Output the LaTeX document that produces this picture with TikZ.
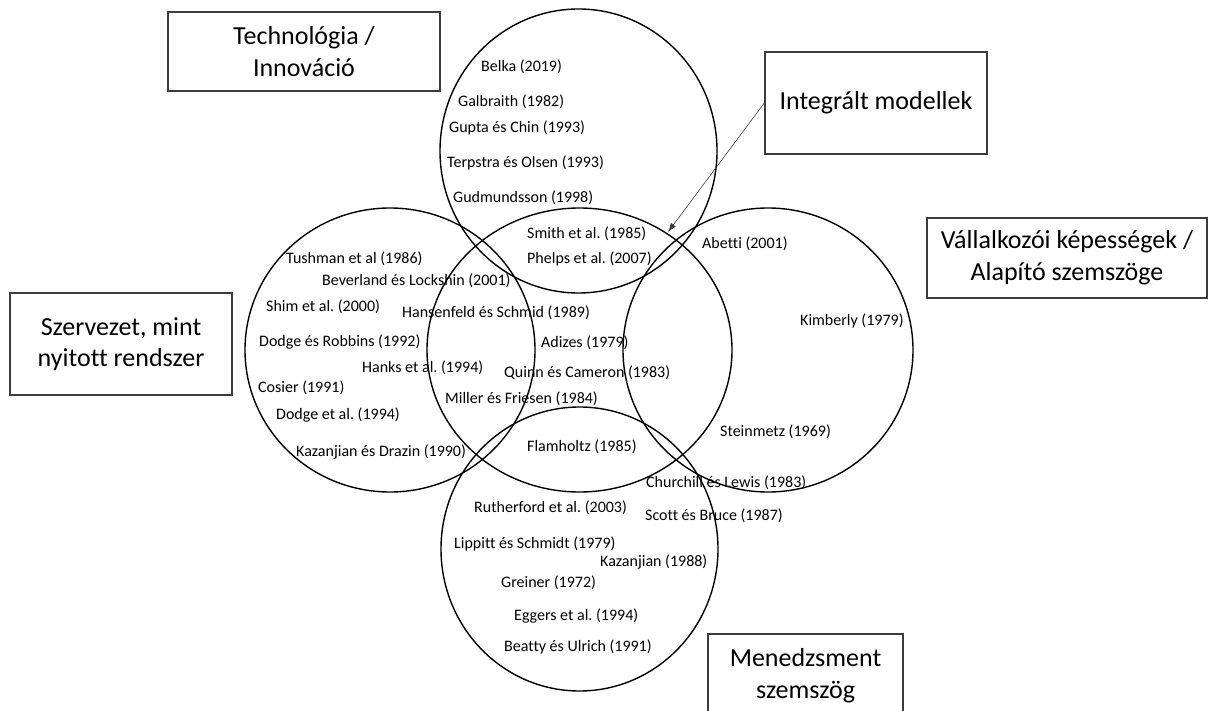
\documentclass[tikz,border=0pt]{standalone}
\usepackage{fontspec}
\setmainfont{Carlito}[Ligatures={NoCommon}]
\usetikzlibrary{arrows.meta}
\definecolor{boxgray}{HTML}{3C3C3C}
\frenchspacing
\begin{document}
\begin{tikzpicture}[x=1pt,y=-1pt,
  ref/.style={font=\fontsize{16}{19}\selectfont, inner sep=0pt, anchor=west},
  bigbox/.style={draw=boxgray, line width=1.4pt, align=center, inner sep=0pt,
     font=\fontsize{26}{31.7}\selectfont},
  ring/.style={draw=black, line width=1.4pt},
  pointer/.style={draw=boxgray, line width=0.6pt, -{Latex[length=9pt,width=6pt]}}]
\useasboundingbox (0,0) rectangle (1209,711);
\clip (0,0) rectangle (1209,711);
\fill[white] (0,0) rectangle (1209,711);

% circles
\draw[ring] (578.5,151) ellipse [x radius=138.5, y radius=142];
\draw[ring] (390,350) ellipse [x radius=145, y radius=142];
\draw[ring] (579.5,350) ellipse [x radius=152.5, y radius=142];
\draw[ring] (768,350) ellipse [x radius=145, y radius=142];
\draw[ring] (579.5,549) ellipse [x radius=138.5, y radius=142];

% boxes
\node[bigbox, minimum width=272pt, minimum height=79pt] (tech) at (304,51.5) {Technológia /\\Innováció};
\node[bigbox, minimum width=222pt, minimum height=102pt] (integ) at (876,103) {Integrált modellek};
\node[bigbox, minimum width=280pt, minimum height=80pt] (vall) at (1067,258) {Vállalkozói képességek /\\Alapító szemszöge};
\node[bigbox, minimum width=222pt, minimum height=102pt] (szerv) at (121,344) {Szervezet, mint\\nyitott rendszer};
\node[bigbox, minimum width=195pt, minimum height=84pt] (menedz) at (805.5,676) {Menedzsment\\szemszög};

% arrow
\coordinate (tip) at (668,232);
\draw[pointer] (integ.west) -- (tip);

% top circle
\node[ref] (belka) at (481,67) {Belka (2019)};
\node[ref] (galb) at (458,102) {Galbraith (1982)};
\node[ref] (gupta) at (449,128) {Gupta és Chin (1993)};
\node[ref] (terp) at (447,163) {Terpstra és Olsen (1993)};
\node[ref] (gudm) at (453,198) {Gudmundsson (1998)};
% center top
\node[ref] (smith) at (527,234) {Smith et al. (1985)};
\node[ref] (phelps) at (527,259) {Phelps et al. (2007)};
% left circle
\node[ref] (tush) at (286,259) {Tushman et al (1986)};
\node[ref] (bever) at (322,281) {Beverland és Lockshin (2001)};
\node[ref] (shim) at (266,307) {Shim et al. (2000)};
\node[ref] (hansen) at (402,313) {Hansenfeld és Schmid (1989)};
\node[ref] (dodgerob) at (259,342) {Dodge és Robbins (1992)};
\node[ref] (hanks) at (362,368) {Hanks et al. (1994)};
\node[ref] (cosier) at (258,388) {Cosier (1991)};
\node[ref] (dodgeal) at (276,415) {Dodge et al. (1994)};
\node[ref] (kazdraz) at (296,452) {Kazanjian és Drazin (1990)};
% center
\node[ref] (adizes) at (541,343) {Adizes (1979)};
\node[ref] (quinn) at (504,373) {Quinn és Cameron (1983)};
\node[ref] (miller) at (445,399) {Miller és Friesen (1984)};
\node[ref] (flam) at (527,447) {Flamholtz (1985)};
% right circle
\node[ref] (abetti) at (702,244) {Abetti (2001)};
\node[ref] (kimb) at (800,321) {Kimberly (1979)};
\node[ref] (stein) at (720,432) {Steinmetz (1969)};
\node[ref] (church) at (646,483) {Churchill és Lewis (1983)};
% bottom circle
\node[ref] (ruth) at (474,508) {Rutherford et al. (2003)};
\node[ref] (scott) at (645,516) {Scott és Bruce (1987)};
\node[ref] (lipp) at (454,544) {Lippitt és Schmidt (1979)};
\node[ref] (kaz88) at (600,562) {Kazanjian (1988)};
\node[ref] (grein) at (501,583) {Greiner (1972)};
\node[ref] (egg) at (514,616) {Eggers et al. (1994)};
\node[ref] (beatty) at (504,647) {Beatty és Ulrich (1991)};
\end{tikzpicture}
\end{document}
